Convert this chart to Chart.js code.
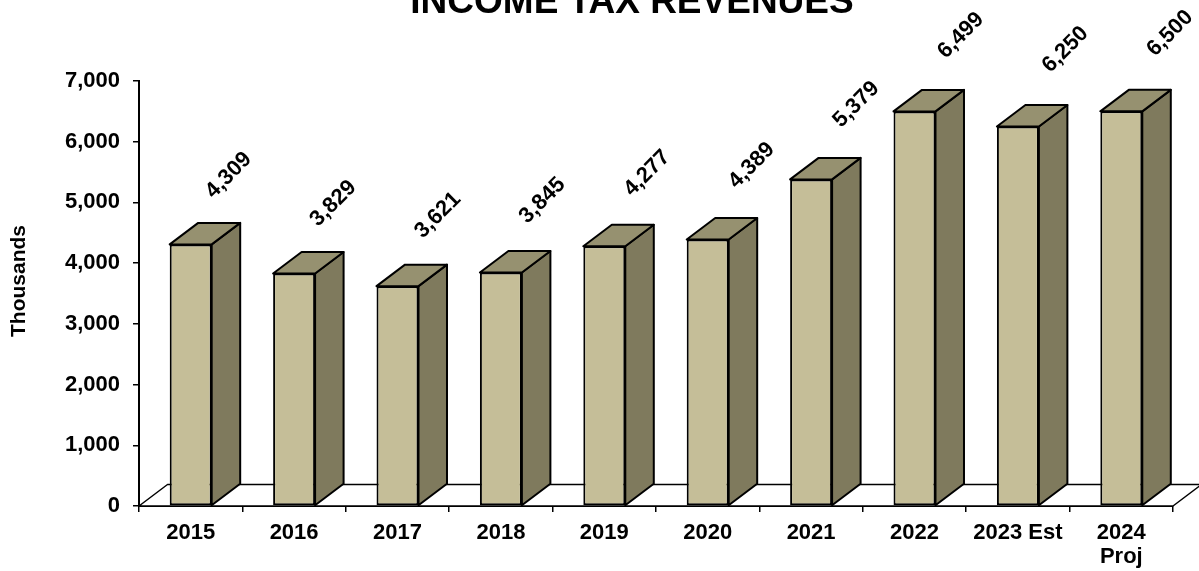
<!DOCTYPE html>
<html>
<head>
<meta charset="utf-8">
<title>Income Tax Revenues</title>
<script src="https://cdn.jsdelivr.net/npm/chart.js@4/dist/chart.umd.min.js"></script>
<style>
  html, body { margin: 0; padding: 0; background: #ffffff; }
  #wrap { width: 1199px; height: 571px; position: relative; }
</style>
</head>
<body>
<div id="wrap"><canvas id="chart" width="1199" height="571"></canvas></div>
<script>
// Fiscal years and revenue amounts (thousands)
const categories = ['2015', '2016', '2017', '2018', '2019', '2020', '2021', '2022', '2023 Est', ['2024', 'Proj']];
const revenues = [4309, 3829, 3621, 3845, 4277, 4389, 5379, 6499, 6250, 6500];
const yTicks = [0, 1000, 2000, 3000, 4000, 5000, 6000, 7000];

const FONT = "'Liberation Sans', Arial, Helvetica, sans-serif";
const FRONT = '#C5BE98';
const SIDE = '#7F7A5D';
const TOP = '#969170';
const DEPTH_X = 28.5;
const DEPTH_Y = -21.5;

const fmt = v => v.toLocaleString('en-US');

// Floor plane plus the side and top faces of each box
const boxes3d = {
  id: 'boxes3d',
  beforeDatasetsDraw(chart) {
    const { ctx, chartArea } = chart;
    const l = chartArea.left, r = chartArea.right, b = chartArea.bottom;
    ctx.save();
    ctx.lineJoin = 'round';
    ctx.strokeStyle = '#000';
    ctx.lineWidth = 1.5;
    ctx.fillStyle = '#fff';
    ctx.beginPath();
    ctx.moveTo(l, b);
    ctx.lineTo(l + DEPTH_X, b + DEPTH_Y);
    ctx.lineTo(r + DEPTH_X, b + DEPTH_Y);
    ctx.lineTo(r, b);
    ctx.closePath();
    ctx.fill();
    ctx.stroke();

    ctx.lineWidth = 2;
    chart.getDatasetMeta(0).data.forEach(el => {
      const { x, y, base, width } = el.getProps(['x', 'y', 'base', 'width'], true);
      const left = x - width / 2, right = x + width / 2;
      // side face
      ctx.fillStyle = SIDE;
      ctx.beginPath();
      ctx.moveTo(right, y);
      ctx.lineTo(right + DEPTH_X, y + DEPTH_Y);
      ctx.lineTo(right + DEPTH_X, base + DEPTH_Y);
      ctx.lineTo(right, base);
      ctx.closePath();
      ctx.fill();
      ctx.stroke();
      // top face
      ctx.fillStyle = TOP;
      ctx.beginPath();
      ctx.moveTo(left, y);
      ctx.lineTo(left + DEPTH_X, y + DEPTH_Y);
      ctx.lineTo(right + DEPTH_X, y + DEPTH_Y);
      ctx.lineTo(right, y);
      ctx.closePath();
      ctx.fill();
      ctx.stroke();
    });
    ctx.restore();
  },
  afterDraw(chart) {
    const { ctx } = chart;
    ctx.save();
    ctx.fillStyle = '#000';
    // value labels, slanted upward
    ctx.font = 'bold 22px ' + FONT;
    ctx.textAlign = 'center';
    ctx.textBaseline = 'middle';
    chart.getDatasetMeta(0).data.forEach((el, i) => {
      const { x, y } = el.getProps(['x', 'y'], true);
      ctx.save();
      ctx.translate(x + 38 + 1.2 * i, y - 69 - 1.0 * i);
      ctx.rotate(-Math.PI / 4);
      ctx.fillText(fmt(revenues[i]), 0, 0);
      ctx.restore();
    });
    // heading
    ctx.font = 'bold 37px ' + FONT;
    ctx.textBaseline = 'alphabetic';
    ctx.fillText('INCOME TAX REVENUES', 632, 13);
    // vertical axis caption
    ctx.font = 'bold 21px ' + FONT;
    ctx.textBaseline = 'middle';
    ctx.translate(19.5, 281);
    ctx.rotate(-Math.PI / 2);
    ctx.fillText('Thousands', 0, 0);
    ctx.restore();
  }
};

new Chart(document.getElementById('chart'), {
  type: 'bar',
  data: {
    labels: categories,
    datasets: [{
      data: revenues,
      backgroundColor: FRONT,
      borderColor: '#000',
      borderWidth: 2,
      borderSkipped: false,
      categoryPercentage: 1,
      barPercentage: 0.406
    }]
  },
  options: {
    responsive: false,
    animation: false,
    devicePixelRatio: 1,
    layout: { padding: { top: 81, right: 26, left: 0, bottom: 0 } },
    plugins: { legend: { display: false }, tooltip: { enabled: false }, title: { display: false } },
    scales: {
      x: {
        offset: true,
        grid: { offset: true, drawOnChartArea: false, color: '#000', lineWidth: 1.5, tickLength: 6 },
        border: { color: '#000', width: 2 },
        ticks: {
          color: '#000',
          padding: 9,
          maxRotation: 0,
          autoSkip: false,
          font: { family: FONT, size: 22, weight: 'bold', lineHeight: 1.1 }
        },
        afterFit(scale) { scale.height = 65; }
      },
      y: {
        min: yTicks[0],
        max: yTicks[yTicks.length - 1],
        afterBuildTicks(scale) { scale.ticks = yTicks.map(v => ({ value: v })); },
        grid: { drawOnChartArea: false, color: '#000', lineWidth: 1.5, tickLength: 6 },
        border: { color: '#000', width: 2 },
        ticks: {
          color: '#000',
          padding: 13,
          callback: v => fmt(v),
          font: { family: FONT, size: 22, weight: 'bold' }
        },
        afterFit(scale) { scale.width = 139; }
      }
    }
  },
  plugins: [boxes3d]
});
</script>
</body>
</html>
